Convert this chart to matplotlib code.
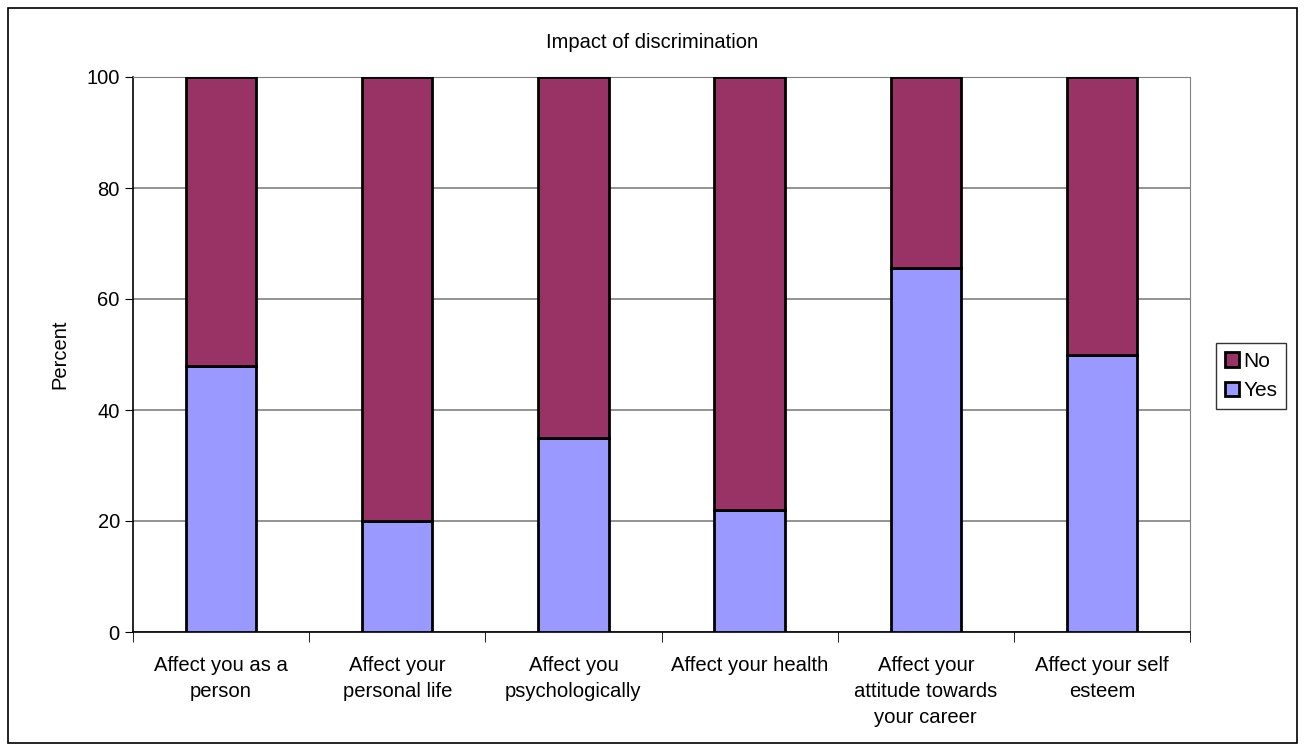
import matplotlib.pyplot as plt
from matplotlib.patches import Rectangle
import numpy as np

plt.rcParams['font.family'] = ['Liberation Sans', 'DejaVu Sans']

categories = ["Affect you as a\nperson", "Affect your\npersonal life",
              "Affect you\npsychologically", "Affect your health",
              "Affect your\nattitude towards\nyour career", "Affect your self\nesteem"]
yes = [48, 20, 35, 22, 65.5, 50]
no = [100 - v for v in yes]

yes_color = "#9999FF"
no_color = "#993366"

fig = plt.figure(figsize=(13.05, 7.51), dpi=100)
ax = fig.add_axes([133 / 1305, 1 - 632 / 751, (1190 - 133) / 1305, (632 - 77) / 751])

# outer chart border
fig.patches.append(Rectangle((8 / 1305, 8 / 751), 1289 / 1305, 735 / 751,
                             transform=fig.transFigure, fill=False,
                             edgecolor="black", linewidth=1.2))

x = np.arange(len(categories))
ax.bar(x, yes, width=0.4, color=yes_color, edgecolor="black", linewidth=2, label="Yes", zorder=3)
ax.bar(x, no, width=0.4, bottom=yes, color=no_color, edgecolor="black", linewidth=2, label="No", zorder=3)

ax.set_xlim(-0.5, len(categories) - 0.5)
ax.set_ylim(0, 100)
ax.set_yticks(range(0, 101, 20))
ax.yaxis.grid(True, color="#808080", linewidth=1.2)
ax.set_axisbelow(True)

ax.set_xticks(x)
ax.set_xticklabels(categories, fontsize=14.6, linespacing=1.47)
ax.tick_params(axis="x", length=0, pad=17)
ax.set_xticks(np.arange(-0.5, len(categories)), minor=True)
ax.tick_params(axis="x", which="minor", length=7, color="black")
ax.tick_params(axis="y", labelsize=14.5, length=6, direction="out")

for s in ["top", "right"]:
    ax.spines[s].set_color("#808080")
for s in ["left", "bottom"]:
    ax.spines[s].set_color("black")
    ax.spines[s].set_linewidth(1.2)

ax.set_ylabel("Percent", fontsize=14.5, labelpad=12)
fig.text(0.5, 1 - 42 / 751, "Impact of discrimination", ha="center", va="center", fontsize=14.5)

handles, labels = ax.get_legend_handles_labels()
leg = fig.legend(handles[::-1], labels[::-1], loc="center", bbox_to_anchor=(1251 / 1305, 1 - 376 / 751),
                 fontsize=15, frameon=True, fancybox=False, edgecolor="black",
                 handlelength=0.7, handleheight=0.7, handletextpad=0.2,
                 borderpad=0.4, labelspacing=0.5, borderaxespad=0)
leg.get_frame().set_linewidth(1)

fig.savefig("out.png", dpi=100)
